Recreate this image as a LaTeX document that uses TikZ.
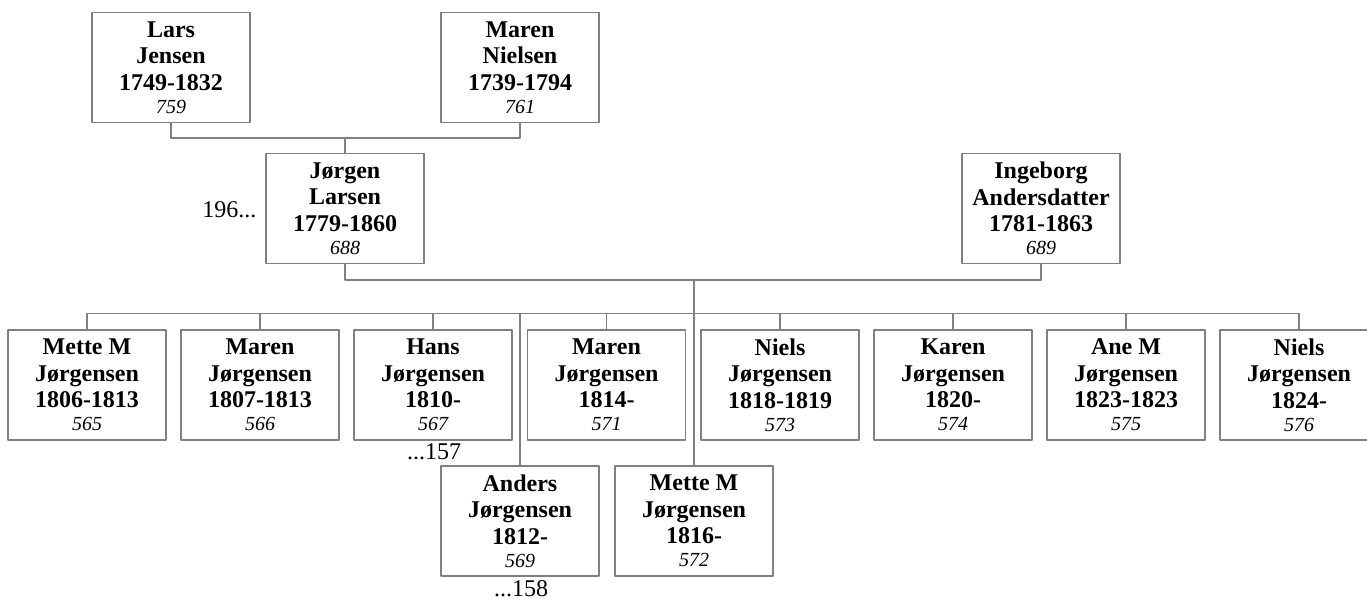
\documentclass[tikz,border=0pt]{standalone}
\usepackage{fontspec}
\setmainfont{Liberation Serif}
\usetikzlibrary{calc}

\tikzset{person/.style={draw=gray,line width=1.2pt,fill=white,minimum width=158pt,minimum height=110pt,inner sep=0pt,align=center,font=\fontsize{24}{26.5}\selectfont\bfseries},
  num/.style={font=\fontsize{24}{26}\selectfont}}
\newcommand{\pid}[1]{\\[-3.5pt]{\fontsize{20}{23}\selectfont\mdseries\itshape #1}}

\begin{document}
\begin{tikzpicture}[line cap=round,line join=round,x=1pt,y=1pt]
\useasboundingbox (0,0) rectangle (1367,-599);
\clip (0,0) rectangle (1367,-599);
% grandparents
\node [person] (lars) at (171,-67.5) {Lars\\Jensen\\1749-1832\pid{759}};
\node [person] (marenN) at (520,-67.5) {Maren\\Nielsen\\1739-1794\pid{761}};
% parents
\node [person] (jorgen) at (345,-208.5) {J\o rgen\\Larsen\\1779-1860\pid{688}};
\node [person] (ingeborg) at (1041,-208.5) {Ingeborg\\Andersdatter\\1781-1863\pid{689}};
\node [num,anchor=base east] (ref196) at (260,-217) {196...};
% children
\node [person] (mette) at (87,-385) {Mette M\\J\o rgensen\\1806-1813\pid{565}};
\node [person] (maren) at (260,-385) {Maren\\J\o rgensen\\1807-1813\pid{566}};
\node [person] (hans) at (433,-385) {Hans\\J\o rgensen\\1810-\pid{567}};
\node [person] (marenB) at (606.5,-385) {Maren\\J\o rgensen\\1814-\pid{571}};
\node [person] (niels) at (780,-385) {Niels\\J\o rgensen\\1818-1819\pid{573}};
\node [person] (karen) at (953,-385) {Karen\\J\o rgensen\\1820-\pid{574}};
\node [person] (ane) at (1126,-385) {Ane M\\J\o rgensen\\1823-1823\pid{575}};
\node [person] (nielsB) at (1299,-385) {Niels\\J\o rgensen\\1824-\pid{576}};
\node [person] (anders) at (520,-521) {Anders\\J\o rgensen\\1812-\pid{569}};
\node [person] (metteB) at (694,-521) {Mette M\\J\o rgensen\\1816-\pid{572}};
\node [num,anchor=base] (ref157) at (434,-459) {...157};
\node [num,anchor=base] (ref158) at (521,-596.5) {...158};
% lines
\coordinate (par) at (345,-138);
\coordinate (fam) at (694,-280);
\coordinate (kids) at (694,-313.5);
\draw [gray,line width=1.2pt] (lars.south) |- (par) -| (marenN.south);
\draw [gray,line width=1.2pt] (par) -- (jorgen.north);
\draw [gray,line width=1.2pt] (jorgen.south) |- (fam) -| (ingeborg.south);
\draw [gray,line width=1.2pt] (fam) -- (metteB.north);
\draw [gray,line width=1.2pt] (mette.north) |- (kids) -| (nielsB.north);
\foreach \c in {maren,hans,marenB,niels,karen,ane,anders}
  \draw [gray,line width=1.2pt] (\c.north) -- (\c.north |- kids);
\end{tikzpicture}
\end{document}
